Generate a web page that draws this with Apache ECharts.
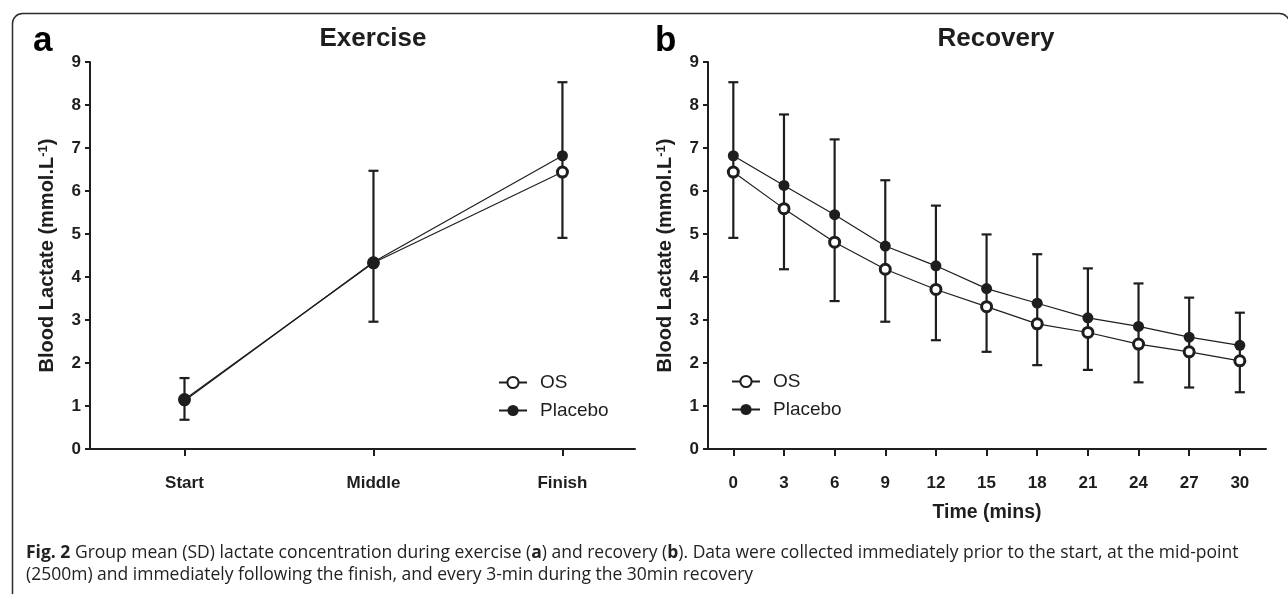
<!DOCTYPE html>
<html>
<head>
<meta charset="utf-8">
<title>Blood lactate</title>
<script src="https://cdn.jsdelivr.net/npm/echarts@6/dist/echarts.min.js"></script>
<style>
  html, body { margin: 0; padding: 0; background: #fff; }
  #chart { width: 1288px; height: 594px; }
</style>
</head>
<body>
<div id="chart"></div>
<script>
// exercise panel (a)
var phaseLabels = ['Start', 'Middle', 'Finish'];
var exOS = [1.15, 4.33, 6.44];
var exPlacebo = [1.12, 4.35, 6.82];
var exUpper = [1.65, 6.47, 8.53];   // Placebo + SD
var exLower = [0.68, 2.96, 4.91];   // OS - SD

// recovery panel (b)
var recTime = [0, 3, 6, 9, 12, 15, 18, 21, 24, 27, 30];
var recOS = [6.44, 5.59, 4.81, 4.18, 3.71, 3.31, 2.91, 2.71, 2.44, 2.26, 2.05];
var recPlacebo = [6.82, 6.13, 5.45, 4.72, 4.26, 3.73, 3.39, 3.05, 2.85, 2.60, 2.41];
var recUpper = [8.53, 7.78, 7.20, 6.25, 5.66, 4.99, 4.53, 4.20, 3.85, 3.52, 3.17];
var recLower = [4.91, 4.18, 3.44, 2.96, 2.53, 2.26, 1.95, 1.84, 1.55, 1.43, 1.32];

var INK = '#1e1e1e';
var FONT = 'Liberation Sans, Arial, sans-serif';

function pairs(xs, ys) {
  return xs.map(function (x, i) { return [x, ys[i]]; });
}
function bars(xs, lo, hi) {
  return xs.map(function (x, i) { return [x, lo[i], hi[i]]; });
}
var phaseIdx = phaseLabels.map(function (d, i) { return i; });

// vertical error bar with caps
function errorBar(params, api) {
  var x = api.value(0);
  var top = api.coord([x, api.value(2)]);
  var bot = api.coord([x, api.value(1)]);
  var w = 5;
  var st = { stroke: INK, lineWidth: 2.2 };
  return {
    type: 'group',
    children: [
      { type: 'line', shape: { x1: top[0], y1: top[1], x2: bot[0], y2: bot[1] }, style: st },
      { type: 'line', shape: { x1: top[0] - w, y1: top[1], x2: top[0] + w, y2: top[1] }, style: st },
      { type: 'line', shape: { x1: bot[0] - w, y1: bot[1], x2: bot[0] + w, y2: bot[1] }, style: st }
    ]
  };
}

var yTitle = {
  text: 'Blood Lactate (mmol.L{sup|-1})',
  rich: { sup: { fontSize: 13, fontWeight: 'bold', fontFamily: FONT, color: INK, verticalAlign: 'top' } }
};

function yAxisFor(gridIndex) {
  return {
    type: 'value', gridIndex: gridIndex, min: 0, max: 9, interval: 1,
    name: yTitle.text, nameLocation: 'middle', nameGap: 33,
    nameTextStyle: { fontSize: 20, fontWeight: 'bold', fontFamily: FONT, color: INK, rich: yTitle.rich },
    axisLine: { show: true, onZero: false, lineStyle: { color: INK, width: 2 } },
    axisTick: { show: true, length: 5, lineStyle: { color: INK, width: 2 } },
    axisLabel: { margin: 9, fontSize: 17, fontWeight: 'bold', fontFamily: FONT, color: INK },
    splitLine: { show: false }
  };
}

var lineStyle = { color: INK, width: 1.2 };
var osSymbol = { symbol: 'circle', symbolSize: 10, itemStyle: { color: '#fff', borderColor: INK, borderWidth: 3 } };
var plSymbol = { symbol: 'circle', symbolSize: 11, itemStyle: { color: INK, borderColor: INK, borderWidth: 0 } };

var legendText = { fontSize: 19, fontFamily: FONT, color: INK, padding: [0, 0, 0, 8] };

var chart = echarts.init(document.getElementById('chart'), null, { renderer: 'canvas' });

var option = {
  animation: false,
  backgroundColor: '#fff',
  grid: [
    { left: 90, top: 62, width: 545, height: 387 },
    { left: 708, top: 62, width: 558, height: 387 }
  ],
  xAxis: [
    {
      type: 'value', gridIndex: 0, min: -0.5, max: 2.384,
      axisLine: { onZero: false, lineStyle: { color: INK, width: 2 } },
      axisTick: { show: true, length: 7, customValues: phaseIdx, lineStyle: { color: INK, width: 2 } },
      axisLabel: {
        customValues: phaseIdx, margin: 26, fontSize: 17, fontWeight: 'bold', fontFamily: FONT, color: INK,
        formatter: function (v) { return phaseLabels[Math.round(v)]; }
      },
      splitLine: { show: false }
    },
    {
      type: 'value', gridIndex: 1, min: -1.5, max: 31.55,
      name: 'Time (mins)', nameLocation: 'middle', nameGap: 54,
      nameTextStyle: { fontSize: 19.5, fontWeight: 'bold', fontFamily: FONT, color: INK },
      axisLine: { onZero: false, lineStyle: { color: INK, width: 2 } },
      axisTick: { show: true, length: 7, customValues: recTime, lineStyle: { color: INK, width: 2 } },
      axisLabel: { customValues: recTime, margin: 26, fontSize: 17, fontWeight: 'bold', fontFamily: FONT, color: INK },
      splitLine: { show: false }
    }
  ],
  yAxis: [yAxisFor(0), yAxisFor(1)],
  legend: [
    {
      left: 493, top: 368, orient: 'vertical', itemWidth: 28, itemHeight: 14, itemGap: 9,
      data: ['OS', 'Placebo'], textStyle: legendText
    },
    {
      left: 726, top: 367, orient: 'vertical', itemWidth: 28, itemHeight: 14, itemGap: 9,
      data: ['OS', 'Placebo'], textStyle: legendText
    }
  ],
  series: [
    { type: 'custom', xAxisIndex: 0, yAxisIndex: 0, renderItem: errorBar, encode: { x: 0, y: [1, 2] }, data: bars(phaseIdx, exLower, exUpper), z: 1 },
    Object.assign({ type: 'line', name: 'OS', xAxisIndex: 0, yAxisIndex: 0, data: pairs(phaseIdx, exOS), lineStyle: lineStyle, z: 2 }, osSymbol),
    Object.assign({ type: 'line', name: 'Placebo', xAxisIndex: 0, yAxisIndex: 0, data: pairs(phaseIdx, exPlacebo), lineStyle: lineStyle, z: 3 }, plSymbol),

    { type: 'custom', xAxisIndex: 1, yAxisIndex: 1, renderItem: errorBar, encode: { x: 0, y: [1, 2] }, data: bars(recTime, recLower, recUpper), z: 1 },
    Object.assign({ type: 'line', name: 'OS', xAxisIndex: 1, yAxisIndex: 1, data: pairs(recTime, recOS), lineStyle: lineStyle, z: 2 }, osSymbol),
    Object.assign({ type: 'line', name: 'Placebo', xAxisIndex: 1, yAxisIndex: 1, data: pairs(recTime, recPlacebo), lineStyle: lineStyle, z: 3 }, plSymbol)
  ],
  graphic: [
    // figure frame (bottom edge falls just below the picture)
    { type: 'rect', left: 10, top: 11, shape: { width: 1277, height: 590, r: 10 }, style: { fill: 'none', stroke: '#2a2a2a', lineWidth: 1.5 }, z: -1 },
    // panel letters and titles
    { type: 'text', left: 33, top: 24, style: { text: 'a', font: 'bold 35px ' + FONT, fill: '#000' } },
    { type: 'text', left: 655, top: 24, style: { text: 'b', font: 'bold 35px ' + FONT, fill: '#000' } },
    { type: 'text', x: 373, y: 39, style: { text: 'Exercise', font: 'bold 26px ' + FONT, fill: INK, align: 'center', verticalAlign: 'middle' } },
    { type: 'text', x: 996, y: 39, style: { text: 'Recovery', font: 'bold 26px ' + FONT, fill: INK, align: 'center', verticalAlign: 'middle' } },
    // caption
    {
      type: 'text', left: 26, top: 542,
      style: {
        text: '{b|Fig. 2} Group mean (SD) lactate concentration during exercise ({b|a}) and recovery ({b|b}). Data were collected immediately prior to the start, at the mid-point\n(2500m) and immediately following the finish, and every 3-min during the 30min recovery',
        font: '17.5px Open Sans, sans-serif', fill: '#222', lineHeight: 22,
        rich: { b: { fontWeight: 'bold', fontFamily: 'Open Sans, sans-serif', fontSize: 17.5, fill: '#222', lineHeight: 22 } }
      }
    }
  ]
};

chart.setOption(option);
</script>
</body>
</html>
